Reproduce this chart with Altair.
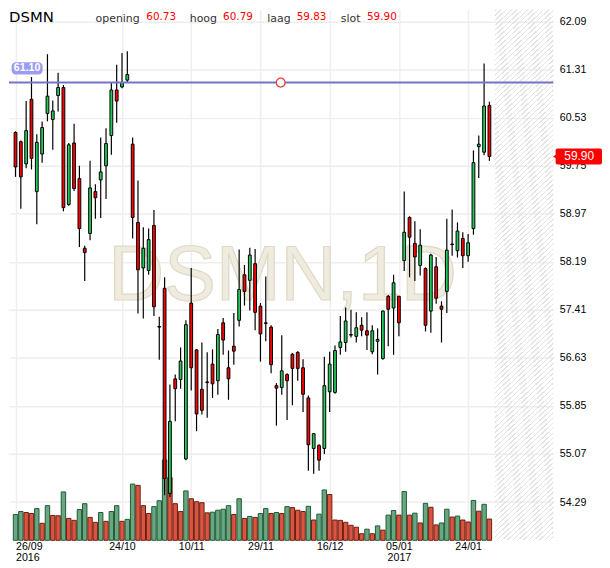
import altair as alt
import pandas as pd

# ---------------- data ----------------
opens = [60.29, 60.14, 59.78, 60.83, 59.33, 59.94, 60.60, 60.50, 60.89, 61.02,
         59.12, 60.12, 59.54, 58.41, 58.65, 59.33, 59.52, 59.75, 60.24, 60.98,
         61.03, 61.14, 60.10, 58.83, 58.09, 58.05, 58.78, 57.14, 57.76, 54.43,
         56.29, 56.28, 54.99, 57.52, 56.76, 56.12, 56.24, 56.53, 56.26, 57.20,
         56.47, 56.82, 57.24, 57.98, 57.89, 58.16, 57.47, 57.20, 57.13, 56.18,
         56.15, 56.36, 56.69, 56.72, 56.47, 55.98, 55.16, 55.21, 55.16, 56.08,
         56.07, 56.80, 56.88, 57.00, 56.98, 57.16, 57.07, 56.73, 56.90, 56.62,
         57.63, 57.44, 57.63, 58.21, 58.91, 58.49, 58.13, 58.08, 57.39, 58.11,
         57.47, 57.71, 58.48, 58.37, 58.57, 58.29, 58.73, 60.06, 59.97, 60.73]
highs = [60.31, 60.16, 60.80, 61.19, 60.26, 60.47, 61.56, 60.81, 61.26, 61.06,
         60.12, 60.43, 59.75, 58.45, 59.83, 59.45, 60.21, 60.36, 61.10, 61.39,
         61.58, 61.61, 60.21, 59.51, 58.75, 58.73, 59.03, 57.30, 57.94, 56.20,
         56.36, 56.80, 57.24, 58.09, 56.77, 56.88, 56.72, 56.77, 57.10, 57.28,
         56.75, 57.36, 58.39, 58.14, 58.42, 58.40, 57.52, 57.95, 57.16, 56.22,
         57.00, 56.38, 56.71, 56.74, 56.61, 56.02, 55.41, 55.23, 56.65, 56.73,
         56.83, 57.31, 57.45, 57.41, 57.37, 57.29, 57.37, 57.16, 57.11, 57.40,
         57.65, 57.98, 57.64, 59.33, 58.93, 58.85, 58.72, 58.10, 58.32, 58.27,
         57.55, 58.89, 59.04, 58.83, 58.67, 58.64, 60.00, 60.24, 61.41, 60.79]
lows = [59.57, 59.05, 59.71, 59.69, 58.80, 59.80, 60.47, 60.01, 60.63, 59.01,
        59.10, 59.34, 58.43, 57.88, 58.54, 58.89, 58.90, 59.21, 59.93, 60.45,
        61.01, 61.11, 58.57, 57.35, 57.27, 57.98, 57.31, 56.60, 54.40, 54.37,
        55.60, 56.13, 54.97, 56.10, 55.44, 55.71, 55.66, 55.98, 56.03, 56.68,
        55.95, 56.52, 57.14, 57.48, 57.40, 57.08, 56.57, 56.90, 56.38, 55.53,
        56.03, 55.62, 55.86, 56.26, 55.75, 54.80, 54.75, 54.80, 55.07, 55.75,
        56.05, 56.68, 56.73, 56.96, 56.88, 56.98, 56.76, 56.69, 56.36, 56.60,
        56.82, 56.68, 56.98, 58.04, 57.94, 57.88, 57.97, 57.06, 57.04, 57.51,
        56.88, 57.36, 58.29, 58.26, 58.09, 58.19, 58.63, 59.55, 59.92, 59.83]
closes = [59.73, 59.57, 60.32, 59.87, 60.13, 60.37, 60.88, 60.64, 61.02, 59.07,
          60.09, 59.38, 58.73, 58.34, 59.39, 59.23, 59.65, 60.11, 60.98, 60.80,
          61.10, 61.23, 58.91, 58.06, 58.41, 58.55, 57.46, 57.13, 54.67, 55.60,
          56.13, 56.58, 57.17, 56.47, 55.72, 55.78, 56.23, 56.21, 57.01, 56.92,
          56.29, 56.74, 57.74, 57.71, 58.30, 57.37, 57.02, 57.19, 56.52, 56.14,
          56.42, 56.26, 56.46, 56.46, 56.04, 55.22, 55.40, 54.97, 56.18, 56.53,
          56.75, 56.89, 57.23, 57.01, 57.12, 57.08, 57.00, 57.07, 56.93, 57.39,
          57.42, 57.85, 57.20, 58.67, 58.59, 58.27, 58.46, 57.16, 58.30, 57.60,
          57.42, 58.38, 58.47, 58.69, 58.29, 58.50, 59.80, 60.10, 60.72, 59.90]
volumes = [790, 880, 850, 820, 970, 520, 1060, 760, 750, 1480,
           670, 610, 940, 1120, 700, 550, 850, 580, 880, 1060,
           580, 640, 1720, 1680, 1060, 820, 1030, 1210, 2460, 1920,
           1120, 880, 1510, 1270, 1180, 1150, 840, 860, 920, 950,
           1060, 790, 1270, 670, 730, 700, 820, 970, 820, 850,
           820, 1030, 1000, 920, 880, 1040, 620, 800, 1540, 1400,
           620, 610, 550, 460, 400, 200, 340, 200, 440, 310,
           770, 910, 770, 1490, 770, 830, 530, 1130, 1010, 470,
           530, 950, 710, 740, 620, 560, 1220, 890, 1100, 650]

tick_idx = [0, 20, 33, 46, 59, 72, 85]
tick_day = ["26/09", "24/10", "10/11", "29/11", "16/12", "05/01", "24/01"]
tick_year = ["2016", "", "", "", "", "2017", ""]
price_ticks = [54.29, 55.07, 55.85, 56.63, 57.41, 58.19, 58.97, 59.75, 60.53, 61.31, 62.09]

symbol = "DSMN"
header_names = ["opening", "hoog", "laag", "slot"]
header_values = ["60.73", "60.79", "59.83", "59.90"]
level_value = 61.10
last_value = 59.90
watermark = "DSMN,1D"

# ---------------- layout ----------------
W, H = 548, 534
S = W / 555.0
XD = [-0.29, 100.07]
YD = [53.669, 62.281]
VD = [0, 16230]
future_start = 90.0

df = pd.DataFrame({"k": list(range(len(opens))), "open": opens, "high": highs,
                   "low": lows, "close": closes, "volume": volumes})
df["dir"] = ["bull" if c >= o else "bear" for o, c in zip(opens, closes)]
vdir = ["vup"]
for i in range(1, len(volumes)):
    vdir.append("vup" if volumes[i] > volumes[i - 1] else "vdown")
df["vdir"] = vdir

def xpx(v):
    return (v - XD[0]) / (XD[1] - XD[0]) * W

def ypx(v):
    return (YD[1] - v) / (YD[1] - YD[0]) * H

label_expr = ""
for i, d, yv in zip(tick_idx, tick_day, tick_year):
    lab = f"['{d}', '{yv}']" if yv else f"'{d}'"
    label_expr += f"datum.value == {i} ? {lab} : "
label_expr += "''"

GRID = "#eeeeee"
X = alt.X("k:Q", scale=alt.Scale(domain=XD, nice=False, zero=False),
          axis=alt.Axis(values=tick_idx, labelExpr=label_expr, grid=True, gridColor=GRID,
                        gridWidth=1.5, ticks=False, domain=False,
                        labelAlign={"condition": {"test": f"datum.value == {tick_idx[0]}", "value": "left"},
                                    "value": "center"},
                        labelPadding=1, labelFont="Liberation Sans", labelFontSize=10.7,
                        labelColor="#000000", labelLineHeight=11, title=None))
yscale = alt.Scale(domain=YD, nice=False, zero=False)
yaxis = alt.Axis(orient="right", values=price_ticks, format=".2f", grid=True, gridColor=GRID,
                 gridWidth=1.5, ticks=False, domain=False, labelPadding=6,
                 labelFont="Liberation Sans", labelFontSize=10.7, labelColor="#000000", title=None)

# one fill scale shared by candles and volume bars
fill_scale = alt.Scale(domain=["bull", "bear", "vup", "vdown"],
                       range=["#22cc5a", "#ff0000", "#6aa781", "#d9553f"])

one = pd.DataFrame({"a": [0]})
base = alt.Chart(df)

# hatched "future" zone via striped gradient
hw = W - xpx(future_start)
L = hw + H
t = L / (hw ** 2 + H ** 2)
period, thick = 5.0, 1.4
stops = []
i = 0
while i * period < L:
    a = i * period / L
    b = min((i * period + thick) / L, 1.0)
    stops += [{"offset": a, "color": "rgba(255,255,255,0)"},
              {"offset": a, "color": "#e3e3e3"},
              {"offset": b, "color": "#e3e3e3"},
              {"offset": b, "color": "rgba(255,255,255,0)"}]
    i += 1
grad = {"gradient": "linear", "x1": 0, "y1": 0, "x2": hw * t, "y2": H * t, "stops": stops}

hatch = alt.Chart(one).mark_rect(fill=grad).encode(
    x=alt.datum(future_start), x2=alt.value(W), y=alt.value(0), y2=alt.value(H))

wm = alt.Chart(one).mark_text(text=watermark, font="Liberation Sans", fontSize=79 * S,
                              fill="#efebdf", stroke="#e0d9c6", strokeWidth=1.2,
                              align="center", baseline="alphabetic").encode(
    x=alt.value(279 * S), y=alt.value(295.7 * S))

vol = base.mark_bar(size=4.5 * S, strokeWidth=1).encode(
    x=X,
    y=alt.Y("volume:Q", scale=alt.Scale(domain=VD, nice=False), axis=None),
    fill=alt.Fill("vdir:N", scale=fill_scale, legend=None),
    stroke=alt.Stroke("vdir:N", scale=alt.Scale(domain=["vup", "vdown"], range=["#1e5b37", "#6e1d13"]), legend=None),
)

wick = base.mark_rule(color="black", strokeWidth=1.2).encode(
    x=X, y=alt.Y("low:Q", scale=yscale, axis=yaxis), y2="high:Q")

body = base.mark_bar(size=2.8, stroke="black", strokeWidth=1).encode(
    x=X, y=alt.Y("open:Q", scale=yscale, axis=yaxis), y2="close:Q",
    fill=alt.Fill("dir:N", scale=fill_scale, legend=None))

level = alt.Chart(one).mark_rule(color="#7474c6", strokeWidth=2).encode(
    y=alt.datum(level_value, scale=yscale))

handle = alt.Chart(one).mark_point(shape="circle", filled=True, fill="white", stroke="#e5403a",
                                   strokeWidth=1.3, size=80, opacity=1).encode(
    x=alt.value(277 * S), y=alt.datum(level_value, scale=yscale))

lvl_tag = alt.Chart(one).mark_rect(fill="#9c9cf2", cornerRadius=4).encode(
    x=alt.value(2.7 * S), x2=alt.value(34.3 * S), y=alt.value(53.3 * S), y2=alt.value(66 * S))
lvl_txt = alt.Chart(one).mark_text(text=f"{level_value:.2f}", font="Liberation Sans", fontSize=10.7,
                                   fontWeight="bold", color="white", align="center",
                                   baseline="middle").encode(
    x=alt.value(18.5 * S), y=alt.value(59.8 * S))

yc = ypx(last_value)
last_tag = alt.Chart(one).mark_rect(fill="#ff0000", cornerRadius=2).encode(
    x=alt.value(W + 2.3), x2=alt.value(W + 49), y=alt.value(yc - 8), y2=alt.value(yc + 8))
last_ptr = alt.Chart(one).mark_point(shape="triangle-left", filled=True, color="#ff0000",
                                     size=45, opacity=1).encode(
    x=alt.value(W + 2.5), y=alt.value(yc))
last_txt = alt.Chart(one).mark_text(text=f"{last_value:.2f}", font="Liberation Sans", fontSize=12,
                                    color="white", align="center", baseline="middle").encode(
    x=alt.value(W + 26), y=alt.value(yc))

hdr = [alt.Chart(one).mark_text(text=symbol, font="DejaVu Sans", fontSize=15, color="#000000",
                                align="left", baseline="alphabetic").encode(
    x=alt.value(0), y=alt.value(12.7))]
name_x = [88.3, 184.3, 263.3, 338.3]
val_x = [140, 218.3, 293.3, 365]
for nm, vv, nx, vx in zip(header_names, header_values, name_x, val_x):
    hdr.append(alt.Chart(one).mark_text(text=nm, font="DejaVu Sans", fontSize=11, color="#333333",
                                        align="left", baseline="alphabetic").encode(
        x=alt.value(nx * S), y=alt.value(12.6)))
    hdr.append(alt.Chart(one).mark_text(text=vv, font="DejaVu Sans", fontSize=10.5, color="#ff0000",
                                        align="left", baseline="alphabetic").encode(
        x=alt.value(vx * S), y=alt.value(10.2)))

price = alt.layer(hatch, wm, wick, body, level, handle, lvl_tag, lvl_txt,
                  last_tag, last_ptr, last_txt, *hdr)

chart = alt.layer(vol, price).resolve_scale(y="independent").properties(
    width=W, height=H, padding=0, background="white"
).configure_view(stroke=None)

chart.save("out.html", embed_options={"renderer": "svg", "actions": False})
